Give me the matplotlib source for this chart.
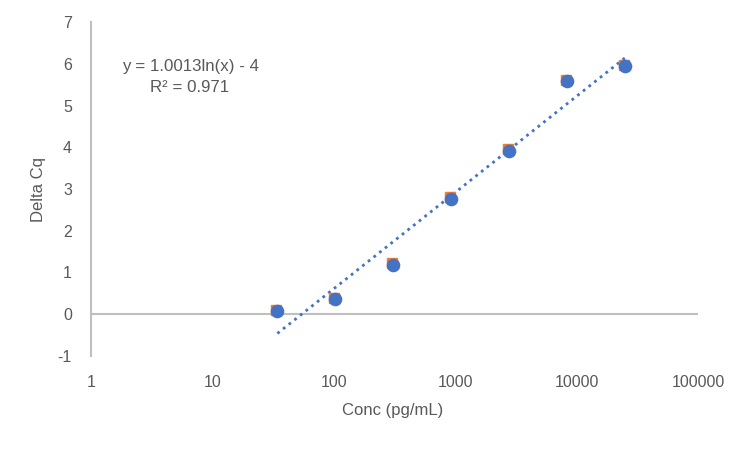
import matplotlib.pyplot as plt
import numpy as np

# data
conc = [34.3, 102.9, 308.6, 925.9, 2777.8, 8333.3, 25000]
delta_cq = [0.07, 0.36, 1.19, 2.77, 3.92, 5.59, 5.95]
# second series (mostly hidden behind the first)
conc2 = [33.6, 100.8, 302.4, 907.4, 2722.2, 8166.7, 24500]
delta_cq2 = [0.10, 0.39, 1.22, 2.80, 3.95, 5.62, 5.98]

x_ticks = [1, 10, 100, 1000, 10000, 100000]
x_tick_labels = ['1', '10', '100', '1000', '10000', '100000']
y_ticks = [-1, 0, 1, 2, 3, 4, 5, 6, 7]
y_tick_labels = ['-1', '0', '1', '2', '3', '4', '5', '6', '7']

slope, intercept = 1.0013, -4.0

BLUE = '#4472C4'
ORANGE = '#ED7D31'
GRAY = '#595959'

plt.rcParams['font.family'] = ['Liberation Sans', 'DejaVu Sans']

fig = plt.figure(figsize=(7.5, 4.49), dpi=100)
ax = fig.add_axes([91 / 750, 1 - 356 / 449, (698 - 91) / 750, (356 - 22) / 449])

ax.set_xscale('log')
ax.set_xlim(1, 100000)
ax.set_ylim(-1, 7)

ax.plot(conc2, delta_cq2, 's', color=ORANGE, ms=7, zorder=3)
ax.plot(conc, delta_cq, 'o', color=BLUE, ms=8.8, zorder=4)

# log trendline
xt = np.logspace(np.log10(conc[0]), np.log10(conc[-1]), 200)
ax.plot(xt, slope * np.log(xt) + intercept, color=BLUE, lw=2, ls=(0, (1, 1.6)), zorder=2)

ax.axhline(0, color='#BFBFBF', lw=1.5, zorder=1)

for s in ['top', 'right', 'bottom']:
    ax.spines[s].set_visible(False)
ax.spines['left'].set_color('#BFBFBF')
ax.spines['left'].set_linewidth(1.5)

ax.set_xticks(x_ticks)
ax.set_xticklabels(x_tick_labels)
ax.xaxis.set_minor_locator(plt.NullLocator())
ax.set_yticks(y_ticks)
ax.set_yticklabels(y_tick_labels)
ax.tick_params(axis='x', length=0, pad=13.4, labelsize=11.5, colors=GRAY)
ax.tick_params(axis='y', length=0, pad=13.7, labelsize=11.5, colors=GRAY)

# axis titles
fig.text(393 / 750, 1 - 410 / 449, 'Conc (pg/mL)', ha='center', va='center',
         fontsize=12, color=GRAY)
fig.text(38 / 750, 1 - 189 / 449, 'Delta Cq', ha='center', va='center',
         rotation=90, fontsize=12, color=GRAY)

# trendline equation
fig.text(191 / 750, 1 - 66 / 449, 'y = 1.0013ln(x) - 4', ha='center', va='center',
         fontsize=12.2, color=GRAY)
fig.text(190 / 750, 1 - 87 / 449, 'R² = 0.971', ha='center', va='center',
         fontsize=12.2, color=GRAY)

fig.savefig('out.png', dpi=100)
